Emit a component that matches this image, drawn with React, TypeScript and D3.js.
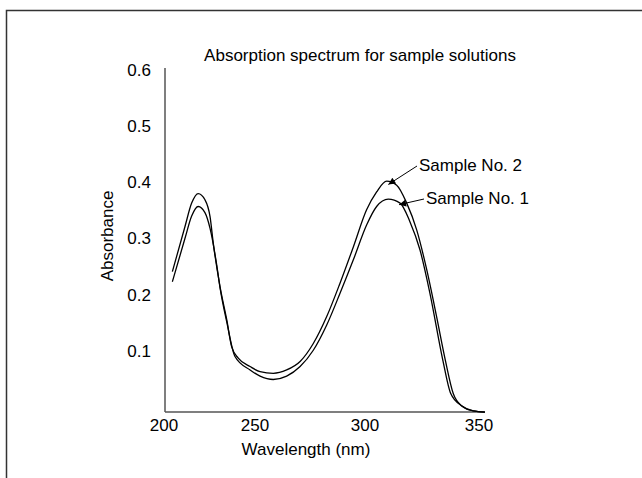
import React from "react";
import * as d3 from "d3";

const title = "Absorption spectrum for sample solutions";
const xLabel = "Wavelength (nm)";
const yLabel = "Absorbance";
const xTicks = [200, 250, 300, 350];
const yTicks = [0.1, 0.2, 0.3, 0.4, 0.5, 0.6];

const wavelength2 = [204.6, 211.5, 215.2, 218.8, 222.5, 225.3, 227.1, 230.8, 234.5, 237.2, 240.8, 247.3, 252.3, 258.3, 264.4, 270.5, 276.5, 282.6, 288.6, 294.7, 300.7, 305.1, 309.5, 313.9, 318.3, 322.7, 327.1, 331.4, 335.2, 338.7, 342.4, 347.5, 352.6];
const absorbance2 = [0.241, 0.321, 0.363, 0.38, 0.369, 0.339, 0.291, 0.214, 0.155, 0.107, 0.087, 0.072, 0.063, 0.06, 0.066, 0.081, 0.113, 0.161, 0.22, 0.285, 0.351, 0.383, 0.402, 0.395, 0.363, 0.315, 0.244, 0.161, 0.084, 0.024, 0.002, -0.007, -0.009];

const wavelength1 = [204.6, 211.5, 215.2, 218.8, 222.5, 225.3, 229.0, 230.8, 234.5, 239.0, 247.3, 252.3, 258.3, 264.4, 270.5, 276.5, 282.6, 288.6, 294.7, 300.7, 305.1, 310.2, 315.4, 319.7, 324.1, 328.5, 334.1, 337.6, 342.4, 347.5, 352.6];
const absorbance1 = [0.223, 0.3, 0.34, 0.357, 0.346, 0.318, 0.252, 0.212, 0.151, 0.09, 0.066, 0.055, 0.049, 0.055, 0.072, 0.101, 0.146, 0.202, 0.262, 0.324, 0.357, 0.37, 0.363, 0.33, 0.28, 0.202, 0.084, 0.024, 0.002, -0.007, -0.009];

const seriesNames = ["Sample No. 2", "Sample No. 1"];

export default function App() {
  const W = 642, H = 478;
  const x = d3.scaleLinear().domain([200, 250, 300, 350]).range([164, 255, 365, 479]);
  const y = d3.scaleLinear().domain([0, 0.6]).range([407, 70]);
  const xEnd = 352.6;
  const axisBottom = 412;
  const font = "'Liberation Sans', Arial, sans-serif";

  const line = d3
    .line<[number, number]>()
    .x((d) => x(d[0]))
    .y((d) => y(d[1]))
    .curve(d3.curveMonotoneX);

  const s2 = wavelength2.map((w, i) => [w, absorbance2[i]] as [number, number]);
  const s1 = wavelength1.map((w, i) => [w, absorbance1[i]] as [number, number]);

  const a2 = [x(309.8), y(0.398)];
  const a1 = [x(314.5), y(0.362)];

  return (
    <svg width={W} height={H} style={{ position: "absolute", left: 0, top: 0, background: "#fff" }} fontFamily={font}>
      <defs>
        <marker id="arr" viewBox="0 0 10 10" refX="10" refY="5" markerWidth="10" markerHeight="7" markerUnits="userSpaceOnUse" orient="auto">
          <path d="M0,0 L10,5 L0,10 z" fill="#000" />
        </marker>
      </defs>
      <rect x={0} y={0} width={W} height={H} fill="#fff" />
      <path d={`M6.5,${H} L6.5,10.5 L${W},10.5`} fill="none" stroke="#333" strokeWidth={1.5} />

      <text x={360} y={61} fontSize={17} textAnchor="middle" fill="#000">{title}</text>

      <line x1={x(200) + 1} x2={x(200) + 1} y1={y(0.6) - 2} y2={axisBottom} stroke="#555" strokeWidth={1.5} />
      <line x1={x(200) + 1} x2={x(xEnd)} y1={axisBottom} y2={axisBottom} stroke="#555" strokeWidth={1.5} />

      {yTicks.map((t) => (
        <text key={t} x={151} y={y(t)} dy="0.35em" fontSize={17} textAnchor="end" fill="#000">
          {t.toFixed(1)}
        </text>
      ))}
      {xTicks.map((t) => (
        <text key={t} x={x(t)} y={431} fontSize={17} textAnchor="middle" fill="#000">
          {t}
        </text>
      ))}
      <text x={306} y={455} fontSize={17} textAnchor="middle" fill="#000">{xLabel}</text>
      <text transform={`translate(113,236) rotate(-90)`} fontSize={17} textAnchor="middle" fill="#000">{yLabel}</text>

      <path d={line(s2) || ""} fill="none" stroke="#000" strokeWidth={1.3} />
      <path d={line(s1) || ""} fill="none" stroke="#000" strokeWidth={1.3} />

      <line x1={417} y1={166} x2={a2[0] + 1} y2={a2[1] + 1} stroke="#000" strokeWidth={1} markerEnd="url(#arr)" />
      <text x={419} y={171} fontSize={17} fill="#000">{seriesNames[0]}</text>
      <line x1={424} y1={199} x2={a1[0] + 1} y2={a1[1] + 1} stroke="#000" strokeWidth={1} markerEnd="url(#arr)" />
      <text x={426} y={204} fontSize={17} fill="#000">{seriesNames[1]}</text>
    </svg>
  );
}
